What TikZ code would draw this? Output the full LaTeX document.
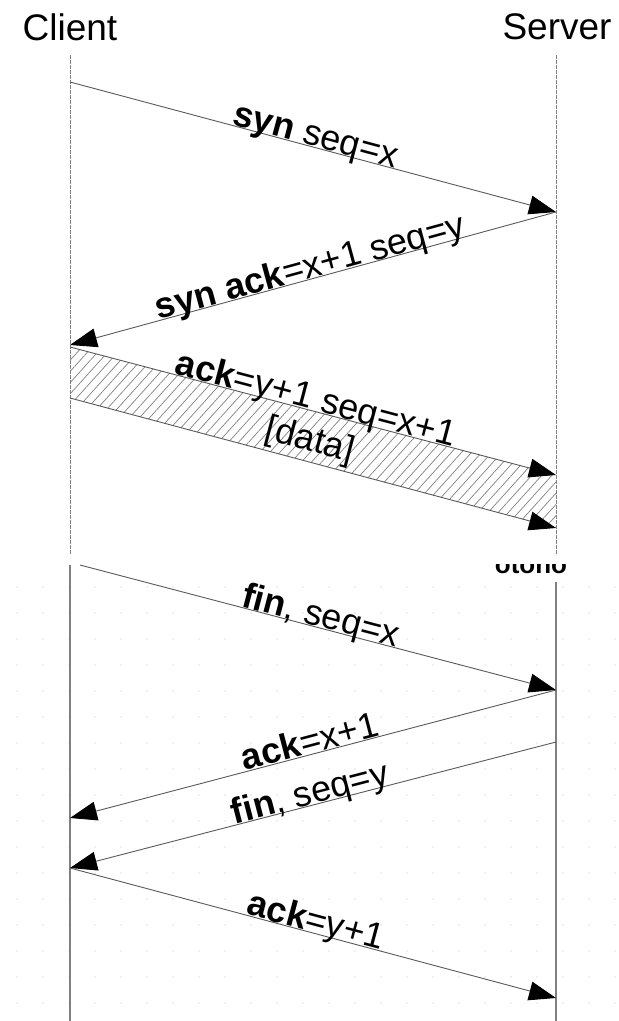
\documentclass[tikz,border=0pt]{standalone}
\usepackage{fontspec}
\setmainfont{Liberation Sans}
\usetikzlibrary{arrows.meta,patterns.meta,calc}
\tikzset{x=1pt,y=1pt,
    head/.style={font=\fontsize{37}{40}\selectfont},
    lbl/.style={sloped,anchor=base,inner sep=0pt,yshift=1pt,font=\fontsize{36}{40}\selectfont},
    upperline/.style={draw=gray,line width=0.9pt,dash pattern=on 4pt off 1pt},
    lowerline/.style={draw=gray,line width=1.1pt},
    msg/.style={draw=black!65,line width=0.9pt,-{Triangle[length=27pt,width=19pt,black]}},
    hatch/.style={pattern={Lines[angle=48,distance=7.5pt,line width=0.7pt]},pattern color=gray},
    griddot/.style={fill=black!12}}

\begin{document}
\begin{tikzpicture}
    \useasboundingbox (0,0) rectangle (619,-1021);
    \foreach \gy in {587,613,...,1015}
        \foreach \gx in {17,43,...,619}
            \fill[griddot] (\gx,-\gy) circle (0.9pt);
    \node[head] (client) at (70,-27) {Client};
    \node[head] (server) at (557,-27) {Server};
    \coordinate (cl0) at (70,-55);
    \coordinate (cl1) at (70,-555);
    \coordinate (cl2) at (70,-565);
    \coordinate (cl3) at (70,-1021);
    \coordinate (sl0) at (556,-55);
    \coordinate (sl1) at (556,-555);
    \coordinate (sl2) at (556,-582);
    \coordinate (sl3) at (556,-1021);
    \draw[upperline] (cl0) -- (cl1);
    \draw[upperline] (sl0) -- (sl1);
    \draw[lowerline] (cl2) -- (cl3);
    \draw[lowerline] (sl2) -- (sl3);
    \coordinate (c1) at (70,-82);
    \coordinate (s1) at (556,-212);
    \coordinate (c2) at (70,-345);
    \coordinate (c3) at (70,-347);
    \coordinate (s3) at (556,-475);
    \coordinate (c4) at (70,-398);
    \coordinate (s4) at (556,-528);
    \coordinate (c5) at (80,-565);
    \coordinate (s5) at (556,-690);
    \coordinate (c6) at (70,-818);
    \coordinate (s6) at (556,-742);
    \coordinate (c7) at (70,-868);
    \coordinate (s7) at (556,-998);
    \fill[hatch] (c3) -- (s3) -- (s4) -- (c4) -- cycle;
    \draw[msg] (c1) -- node[lbl] {\textbf{syn} seq=x} (s1);
    \draw[msg] (s1) -- node[lbl] {\textbf{syn ack}=x+1 seq=y} (c2);
    \draw[msg] (c3) -- node[lbl] {\textbf{ack}=y+1 seq=x+1} (s3);
    \draw[msg] (c4) -- (s4);
    \path ($(c3)!0.5!(c4)$) coordinate (cm) ($(s3)!0.5!(s4)$) coordinate (sm);
    \path (cm) -- node[lbl,anchor=center,yshift=-6pt,xshift=-2pt] (data) {[data]} (sm);
    \begin{scope}
        \clip (490,-564) rectangle (570,-576);
        \node[anchor=base,inner sep=0pt,font=\fontsize{26}{30}\selectfont\bfseries] (frag) at (531,-573) {otono};
    \end{scope}
    \draw[msg] (c5) -- node[lbl] {\textbf{fin}, seq=x} (s5);
    \draw[msg] (s5) -- node[lbl] {\textbf{ack}=x+1} (c6);
    \draw[msg] (s6) -- node[lbl] {\textbf{fin}, seq=y} (c7);
    \draw[msg] (c7) -- node[lbl] {\textbf{ack}=y+1} (s7);
\end{tikzpicture}
\end{document}
